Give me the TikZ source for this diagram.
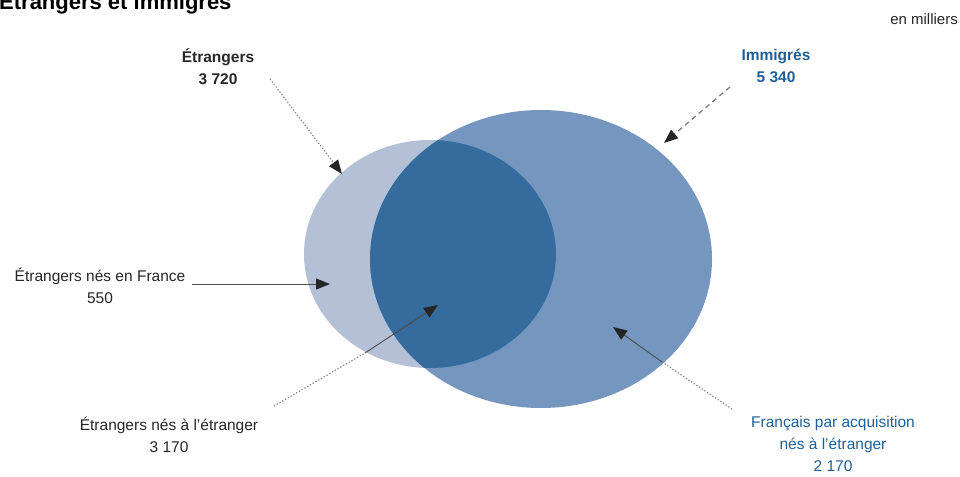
\documentclass[tikz,border=0pt]{standalone}
\usepackage{fontspec}
\setmainfont{Liberation Sans}
\usetikzlibrary{arrows.meta}
\definecolor{lightE}{HTML}{B3C0D6}
\definecolor{bigE}{HTML}{7597BF}
\definecolor{darkE}{HTML}{356B9D}
\definecolor{txtblue}{HTML}{1F5F96}
\definecolor{lineg}{HTML}{808080}
\tikzset{
  lbl/.style={font=\fontsize{15.5}{22}\selectfont, align=center, text=black!85, inner sep=0pt},
  lblb/.style={lbl, font=\bfseries\fontsize{15.5}{22}\selectfont},
  tip/.style={-{Triangle[length=14pt,width=11pt,black!85]}},
  dotl/.style={draw=lineg, line width=1.2pt, dotted},
  dashl/.style={draw=lineg, line width=1.3pt, dash pattern=on 5pt off 4pt},
  soll/.style={draw=black!70, line width=0.9pt},
}
\begin{document}
\begin{tikzpicture}[x=1pt,y=-1pt]
\useasboundingbox (0,0) rectangle (960,476);
% ellipses
\fill[lightE] (430,254) ellipse [x radius=126, y radius=114];
\fill[bigE] (541,259) ellipse [x radius=171, y radius=149];
\begin{scope}
  \clip (430,254) ellipse [x radius=126, y radius=114];
  \fill[darkE] (541,259) ellipse [x radius=171, y radius=149];
\end{scope}
% title and unit
\node[anchor=base west, inner sep=0pt, font=\bfseries\fontsize{22}{26}\selectfont] (title) at (-1,10) {Étrangers et immigrés};
\node[anchor=base east, inner sep=0pt, font=\fontsize{15}{18}\selectfont, text=black!85] (unit) at (958,25) {en milliers};
% labels
\node[lblb] (etr) at (218,67) {Étrangers\\3 720};
\node[lblb, text=txtblue] (imm) at (776,66) {Immigrés\\5 340};
\node[lbl] (nef) at (100,286) {Étrangers nés en France\\550};
\node[lbl] (nee) at (169,435) {Étrangers nés à l'étranger\\3 170};
\node[lbl, text=txtblue] (fra) at (833,444) {Français par acquisition\\nés à l'étranger\\2 170};
% anchor points
\coordinate (etrS) at (270,79);
\coordinate (etrT) at (342,174);
\coordinate (immS) at (730,87);
\coordinate (immT) at (664,143);
\coordinate (nefS) at (192,284);
\coordinate (nefT) at (330,284);
\coordinate (neeS) at (274,406);
\coordinate (neeM) at (365,353);
\coordinate (neeT) at (438,305);
\coordinate (fraS) at (732,409);
\coordinate (fraM) at (662,362);
\coordinate (fraT) at (613,327);
% connectors
\draw[dotl, tip] (etrS) -- (etrT);
\draw[dashl, tip] (immS) -- (immT);
\draw[soll, tip] (nefS) -- (nefT);
\draw[dotl] (neeS) -- (neeM);
\draw[soll, tip] (neeM) -- (neeT);
\draw[dotl] (fraS) -- (fraM);
\draw[soll, tip] (fraM) -- (fraT);
\end{tikzpicture}
\end{document}
